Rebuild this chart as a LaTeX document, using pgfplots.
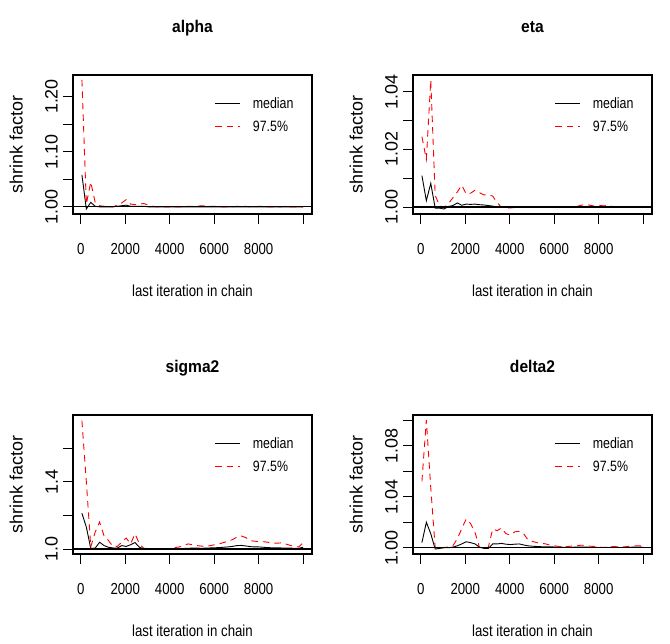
\documentclass[border=0pt]{standalone}
\usepackage{fontspec}
\setmainfont{Liberation Sans}
\newfontfamily\nf{Liberation Sans}[FakeStretch=0.83]
\newfontfamily\tf{Liberation Sans}[FakeStretch=0.92]
\usepackage{pgfplots}
\usepackage{pgfplotstable}
\pgfplotsset{compat=1.18}

\pgfplotstableread{
x m q
51 1.058 1.230
250 0.996 1.005
449 1.008 1.045
648 1.001 1.008
847 1.000 1.002
1046 1.000 1.001
1245 1.000 1.001
1444 1.000 1.000
1643 1.001 1.003
1842 1.002 1.007
2041 1.003 1.013
2240 1.001 1.005
2439 1.001 1.004
2638 1.001 1.005
2837 1.001 1.006
3036 1.000 1.003
3235 1.000 1.001
3434 1.000 1.000
3633 1.000 1.000
3832 1.000 1.000
4031 1.000 1.000
4230 1.000 1.000
4429 1.000 1.000
4628 1.000 1.000
4827 1.000 1.001
5026 1.000 1.001
5225 1.000 1.001
5424 1.000 1.002
5623 1.000 1.002
5822 1.000 1.001
6021 1.000 1.001
6220 1.000 1.000
6419 1.000 1.000
6618 1.000 1.000
6817 1.000 1.000
7016 1.000 1.001
7215 1.000 1.001
7414 1.000 1.001
7613 1.000 1.000
7812 1.000 1.000
8011 1.000 1.001
8210 1.000 1.001
8409 1.000 1.000
8608 1.000 1.000
8807 1.000 1.000
9006 1.000 1.000
9205 1.000 1.001
9404 1.000 1.000
9603 1.000 1.000
9802 1.000 1.000
10000 1.000 1.000
}\alphatab

\pgfplotstableread{
x m q
51 1.0109 1.0244
250 1.0022 1.0165
449 1.0082 1.0440
648 0.9996 1.0040
847 0.9996 1.0005
1046 0.9993 0.9998
1245 1.0002 1.0012
1444 1.0005 1.0032
1643 1.0014 1.0052
1842 1.0006 1.0076
2041 1.0010 1.0045
2240 1.0009 1.0048
2439 1.0010 1.0058
2638 1.0008 1.0050
2837 1.0007 1.0042
3036 1.0005 1.0042
3235 1.0003 1.0038
3434 1.0000 1.0015
3633 0.9999 0.9999
3832 0.9999 0.9997
4031 0.9999 0.9997
4230 0.9999 0.9998
4429 0.9999 0.9999
4628 0.9999 1.0000
4827 0.9999 1.0000
5026 0.9999 1.0001
5225 0.9999 1.0001
5424 1.0000 1.0002
5623 1.0000 1.0001
5822 1.0000 1.0001
6021 1.0000 1.0001
6220 1.0000 1.0001
6419 1.0000 1.0000
6618 1.0000 1.0001
6817 1.0000 1.0001
7016 1.0000 1.0002
7215 1.0001 1.0006
7414 1.0002 1.0009
7613 1.0001 1.0006
7812 1.0001 1.0003
8011 1.0001 1.0006
8210 1.0001 1.0004
8409 1.0001 1.0005
8608 1.0000 1.0002
8807 1.0000 1.0001
9006 1.0000 1.0001
9205 1.0000 1.0000
9404 1.0000 1.0001
9603 1.0000 1.0000
9802 1.0000 1.0000
10000 1.0000 1.0000
}\etatab

\pgfplotstableread{
x m q
51 1.212 1.762
250 1.130 1.400
449 1.003 1.012
648 1.005 1.100
847 1.040 1.160
1046 1.020 1.078
1245 1.010 1.050
1444 1.006 1.015
1643 1.005 1.015
1842 1.020 1.040
2041 1.015 1.065
2240 1.025 1.030
2439 1.038 1.090
2638 1.010 1.030
2837 1.001 1.004
3036 1.000 1.002
3235 1.000 1.001
3434 1.000 1.000
3633 1.000 1.000
3832 1.001 1.001
4031 1.001 1.003
4230 1.002 1.008
4429 1.002 1.012
4628 1.003 1.020
4827 1.004 1.030
5026 1.005 1.025
5225 1.005 1.020
5424 1.004 1.017
5623 1.005 1.015
5822 1.006 1.020
6021 1.007 1.025
6220 1.008 1.030
6419 1.010 1.038
6618 1.012 1.045
6817 1.015 1.055
7016 1.020 1.070
7215 1.021 1.077
7414 1.018 1.068
7613 1.014 1.050
7812 1.012 1.046
8011 1.012 1.044
8210 1.010 1.043
8409 1.008 1.040
8608 1.007 1.036
8807 1.006 1.034
9006 1.006 1.036
9205 1.005 1.030
9404 1.005 1.022
9603 1.004 1.015
9802 1.004 1.012
10000 1.010 1.037
}\sigmatab

\pgfplotstableread{
x m q
51 1.004 1.052
250 1.020 1.100
449 1.011 1.047
648 0.999 1.000
847 0.9995 0.9998
1046 1.000 1.0003
1245 1.000 1.0005
1444 1.0005 1.0016
1643 1.0015 1.007
1842 1.003 1.015
2041 1.0047 1.0225
2240 1.004 1.019
2439 1.003 1.012
2638 1.0005 1.0003
2837 0.9995 0.9998
3036 0.9995 1.0003
3235 1.003 1.0147
3434 1.003 1.0134
3633 1.0034 1.0155
3832 1.0028 1.011
4031 1.0025 1.010
4230 1.0028 1.0125
4429 1.003 1.0129
4628 1.0022 1.011
4827 1.0015 1.006
5026 1.0012 1.005
5225 1.001 1.004
5424 1.0008 1.0035
5623 1.0008 1.003
5822 1.0007 1.002
6021 1.0006 1.0015
6220 1.0005 1.001
6419 1.0004 1.0008
6618 1.0004 1.001
6817 1.0004 1.0013
7016 1.0005 1.0015
7215 1.0006 1.002
7414 1.0005 1.0018
7613 1.0004 1.0012
7812 1.0003 1.001
8011 1.0002 1.0005
8210 1.0002 1.0003
8409 1.0002 1.0005
8608 1.0003 1.001
8807 1.0003 1.0008
9006 1.0002 1.0005
9205 1.0003 1.0008
9404 1.0004 1.0012
9603 1.0005 1.0016
9802 1.0005 1.0016
10000 1.0004 1.0012
}\deltatab

\pgfplotsset{
  rpanel/.style={
    scale only axis, width=239bp, height=139bp, anchor=south west,
    xmin=-350, xmax=10400,
    scaled ticks=false,
    xtick={0,2000,4000,6000,8000,10000},
    xticklabels={0,2000,4000,6000,8000,{}},
    tick align=outside, tick pos=left,
    major tick length=10bp,
    xticklabel shift=19bp, yticklabel shift=5bp,
    axis line style={line width=1.1bp},
    every tick/.style={line width=0.9bp, black},
    /pgf/number format/assume math mode=true,
    xticklabel style={font=\nf\fontsize{16}{16}\selectfont, anchor=north, inner sep=0pt},
    yticklabel style={font=\fontsize{18}{18}\selectfont, rotate=90, anchor=south, inner sep=0pt},
    xlabel={last iteration in chain},
    ylabel={shrink factor},
    xlabel style={font=\nf\fontsize{16}{16}\selectfont, at={([yshift=-71bp]axis description cs:0.5,0)}, anchor=north, inner sep=0pt},
    ylabel style={font=\fontsize{18}{18}\selectfont, at={([xshift=-50bp]axis description cs:0,0.5)}, anchor=south, inner sep=0pt},
    title style={font=\tf\bfseries\fontsize{17}{17}\selectfont, at={([yshift=37bp]axis description cs:0.5,1)}, anchor=base, inner sep=0pt},
    legend style={draw=none, fill=none, inner sep=0pt, outer sep=0pt,
      at={(0.594,0.838)}, anchor=north west,
      font=\nf\fontsize{15}{15}\selectfont,
      nodes={inner sep=0pt}, column sep=12bp, row sep=11bp},
    legend cell align=left,
    legend image code/.code={\draw[#1] (0bp,0bp) -- (25bp,0bp);},
  },
  med/.style={black, line width=0.9bp},
  qq/.style={red, line width=0.9bp, dash pattern=on 6.5bp off 5bp},
  hline/.style={black, line width=1.1bp, forget plot},
}

\begin{document}
\begin{tikzpicture}
\path[use as bounding box] (0,0) rectangle (670bp,644bp);

\begin{axis}[rpanel, at={(73bp,430bp)}, title={alpha},
  ymin=0.987, ymax=1.239,
  ytick={1.00,1.05,1.10,1.15,1.20}, yticklabels={1.00,{},1.10,{},1.20}]
  \addplot[med] table[x=x,y=m]{\alphatab};
  \addplot[qq] table[x=x,y=q]{\alphatab};
  \addplot[hline] coordinates {(-350,1) (10400,1)};
  \legend{median,97.5\%}
\end{axis}

\begin{axis}[rpanel, at={(413bp,430bp)}, title={eta},
  ymin=0.99757, ymax=1.0458,
  ytick={1.00,1.01,1.02,1.03,1.04}, yticklabels={1.00,{},1.02,{},1.04}]
  \addplot[med] table[x=x,y=m]{\etatab};
  \addplot[qq] table[x=x,y=q]{\etatab};
  \addplot[hline] coordinates {(-350,1) (10400,1)};
  \legend{median,97.5\%}
\end{axis}

\begin{axis}[rpanel, at={(73bp,90bp)}, title={sigma2},
  ymin=0.970, ymax=1.796,
  ytick={1.0,1.2,1.4,1.6}, yticklabels={1.0,{},1.4,{}}]
  \addplot[med] table[x=x,y=m]{\sigmatab};
  \addplot[qq] table[x=x,y=q]{\sigmatab};
  \addplot[hline] coordinates {(-350,1) (10400,1)};
  \legend{median,97.5\%}
\end{axis}

\begin{axis}[rpanel, at={(413bp,90bp)}, title={delta2},
  ymin=0.9951, ymax=1.1041,
  ytick={1.00,1.02,1.04,1.06,1.08,1.10}, yticklabels={1.00,{},1.04,{},1.08,{}}]
  \addplot[med] table[x=x,y=m]{\deltatab};
  \addplot[qq] table[x=x,y=q]{\deltatab};
  \addplot[hline] coordinates {(-350,1) (10400,1)};
  \legend{median,97.5\%}
\end{axis}
\end{tikzpicture}
\end{document}
